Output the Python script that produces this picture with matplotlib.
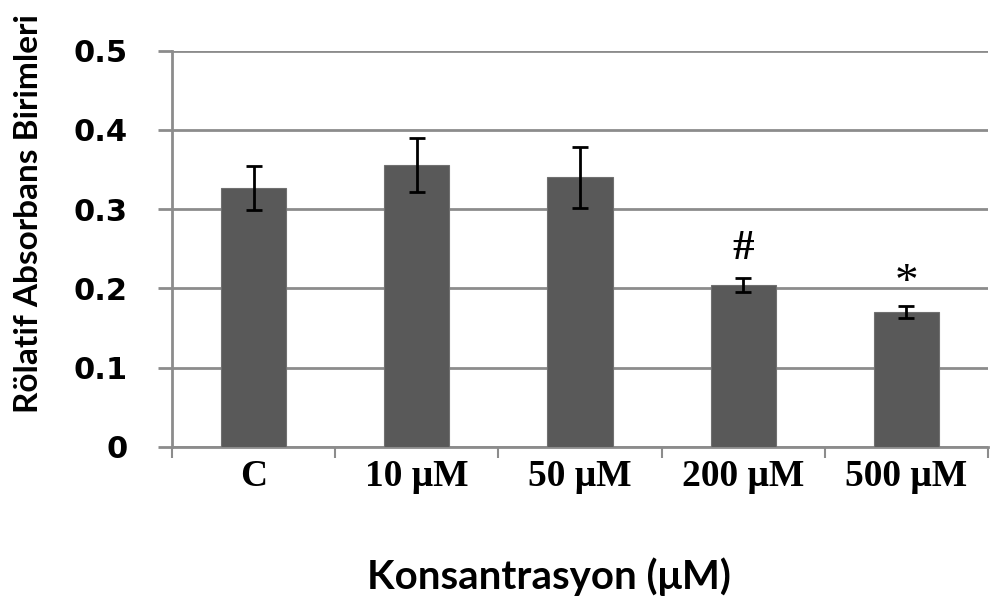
import numpy as np
import matplotlib.pyplot as plt

categories = ['C', '10 μM', '50 μM', '200 μM', '500 μM']
means = [0.327, 0.356, 0.340, 0.204, 0.170]
errors = [0.028, 0.034, 0.038, 0.009, 0.008]
marks = ['', '', '', '#', '*']

grid_col = '#8c8c8c'

fig = plt.figure(figsize=(10.05, 6.01), dpi=100)
ax = fig.add_axes([0.1711, 0.2567, 0.812, 0.659])

x = np.arange(len(categories))
ax.bar(x, means, width=0.4, color='#595959', edgecolor='#707070', linewidth=0.8, zorder=3)
ax.errorbar(x, means, yerr=errors, fmt='none', ecolor='black', elinewidth=2,
            capsize=6, capthick=2, zorder=4)

for xi, m, e, s in zip(x, means, errors, marks):
    if s:
        off = 0.037 if s == '#' else 0.028
        ax.text(xi, m + e + off, s, ha='center', va='center',
                fontsize=31 if s == '#' else 34, fontweight='bold' if s == '#' else 'normal',
                family='Liberation Serif')

ax.set_xlim(-0.5, len(categories) - 0.5)
ax.set_ylim(0, 0.5)
ax.set_yticks(np.arange(0, 0.51, 0.1))
ax.set_yticklabels(['0', '0.1', '0.2', '0.3', '0.4', '0.5'], fontsize=22, fontweight='bold')
ax.yaxis.grid(True, color=grid_col, linewidth=2, zorder=0)
ax.set_axisbelow(True)

ax.set_xticks(x)
ax.set_xticklabels(categories, fontsize=27, fontweight='bold', family='Liberation Serif')
ax.set_xticks(np.arange(-0.5, len(categories)), minor=True)
ax.tick_params(axis='x', which='major', length=0, pad=9)
ax.tick_params(axis='x', which='minor', length=8, width=1.5, color=grid_col)
ax.tick_params(axis='y', length=10, width=2, color=grid_col, pad=22)

for side in ['top', 'right']:
    ax.spines[side].set_visible(False)
ax.spines['left'].set_color(grid_col)
ax.spines['left'].set_linewidth(2)
ax.spines['bottom'].set_color(grid_col)
ax.spines['bottom'].set_linewidth(2)

fig.text(0.028, 0.645, 'Rölatif Absorbans Birimleri', rotation=90, ha='center', va='center',
         fontsize=24, fontweight='bold', family='Lato')
fig.text(0.546, 0.04, 'Konsantrasyon (μM)', ha='center', va='center',
         fontsize=29, fontweight='bold', family='Lato')

fig.savefig('out.png', dpi=100)
